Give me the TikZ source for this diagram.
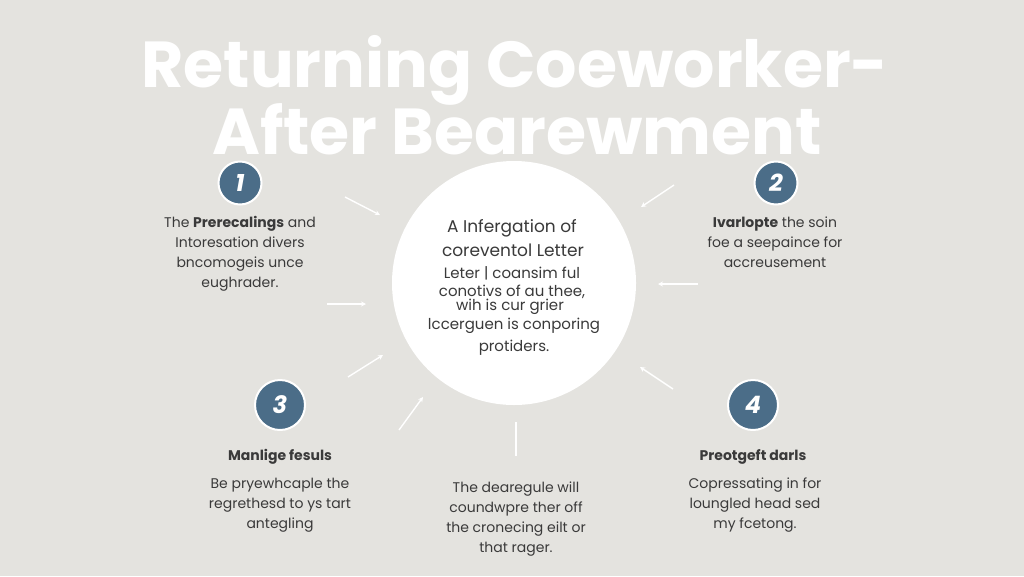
\documentclass[tikz,border=0pt]{standalone}
\usepackage{fontspec}
\setmainfont{Poppins}
\newfontfamily\titlefont{Poppins}
\usetikzlibrary{arrows.meta}
\definecolor{bgc}{HTML}{E4E3DF}
\definecolor{badge}{HTML}{4B6D88}
\definecolor{txt}{HTML}{3A3A3A}
\tikzset{
  body/.style={text=txt, font=\fontsize{14}{20}\selectfont, align=center, inner sep=0pt, anchor=north},
  cline/.style={text=txt, font=\fontsize{15}{18}\selectfont, inner sep=0pt},
  head/.style={text=txt, font=\fontsize{14}{20}\selectfont\bfseries, inner sep=0pt},
  badgec/.style={circle, fill=badge, draw=white, line width=2pt, text=white, inner sep=0pt,
     font=\fontsize{24}{24}\selectfont\bfseries\itshape},
  ray/.style={draw=white, line width=1.4pt, -{Stealth[length=5pt,width=5pt]}},
  plainray/.style={draw=white, line width=1.4pt},
}
\begin{document}
\begin{tikzpicture}[x=1pt,y=-1pt]
\fill[bgc] (0,0) rectangle (1024,576);
\useasboundingbox (0,0) rectangle (1024,576);

% title
\node[text=white, font=\titlefont\fontsize{65}{65}\selectfont\bfseries, inner sep=0pt] (t1) at (515,70) {Returning Coeworker-};
\node[text=white, font=\titlefont\fontsize{65}{65}\selectfont\bfseries, inner sep=0pt] (t2) at (517,129) {After Bearewment};

% central circle
\node[circle, fill=white, minimum size=244pt, inner sep=0pt] (c) at (514,283) {};
\node[cline, font=\fontsize{17}{20}\selectfont] (c1) at (512,228) {A Infergation of};
\node[cline, font=\fontsize{17}{20}\selectfont] (c2) at (513,250) {coreventol Letter};
\node[cline] (c3) at (512,273) {Leter | coansim ful};
\node[cline] (c4) at (512,292) {conotivs of au thee,};
\node[cline] (c5) at (510,307) {wih is cur grier};
\node[cline] (c6) at (514,326) {lccerguen is conporing};
\node[cline] (c7) at (514,348) {protiders.};

% badges
\node[badgec, minimum size=43pt] (b1) at (240,183) {1};
\node[badgec, minimum size=43pt] (b2) at (776,183) {2};
\node[badgec, minimum size=50pt] (b3) at (280,405) {3};
\node[badgec, minimum size=50pt] (b4) at (753,405) {4};

% text blocks
\node[body] (p1) at (240,216) {The \textbf{Prerecalings} and\\Intoresation divers\\bncomogeis unce\\eughrader.};
\node[body] (p2) at (775,217) {\textbf{Ivarlopte} the soin\\foe a seepaince for\\accreusement};
\node[head] (h3) at (280,457) {Manlige fesuls};
\node[body] (p3) at (280,478) {Be pryewhcaple the\\regrethesd to ys tart\\antegling};
\node[body] (p5) at (516,482) {The dearegule will\\coundwpre ther off\\the cronecing eilt or\\that rager.};
\node[head] (h4) at (753,457) {Preotgeft darls};
\node[body] (p4) at (755,478) {Copressating in for\\loungled head sed\\my fcetong.};

% rays
\coordinate (a1s) at (345,197); \coordinate (a1e) at (380,215);
\coordinate (a2s) at (327,304); \coordinate (a2e) at (366,304);
\coordinate (a3s) at (348,377); \coordinate (a3e) at (383,355);
\coordinate (a4s) at (399,430); \coordinate (a4e) at (423,397);
\coordinate (a5s) at (674,185); \coordinate (a5e) at (641,207);
\coordinate (a6s) at (698,284); \coordinate (a6e) at (658,284);
\coordinate (a7s) at (673,389); \coordinate (a7e) at (640,367);
\coordinate (a8s) at (516,422); \coordinate (a8e) at (516,456);
\draw[ray] (a1s) -- (a1e);
\draw[ray] (a2s) -- (a2e);
\draw[ray] (a3s) -- (a3e);
\draw[ray] (a4s) -- (a4e);
\draw[ray] (a5s) -- (a5e);
\draw[ray] (a6s) -- (a6e);
\draw[ray] (a7s) -- (a7e);
\draw[plainray] (a8s) -- (a8e);
\end{tikzpicture}
\end{document}
